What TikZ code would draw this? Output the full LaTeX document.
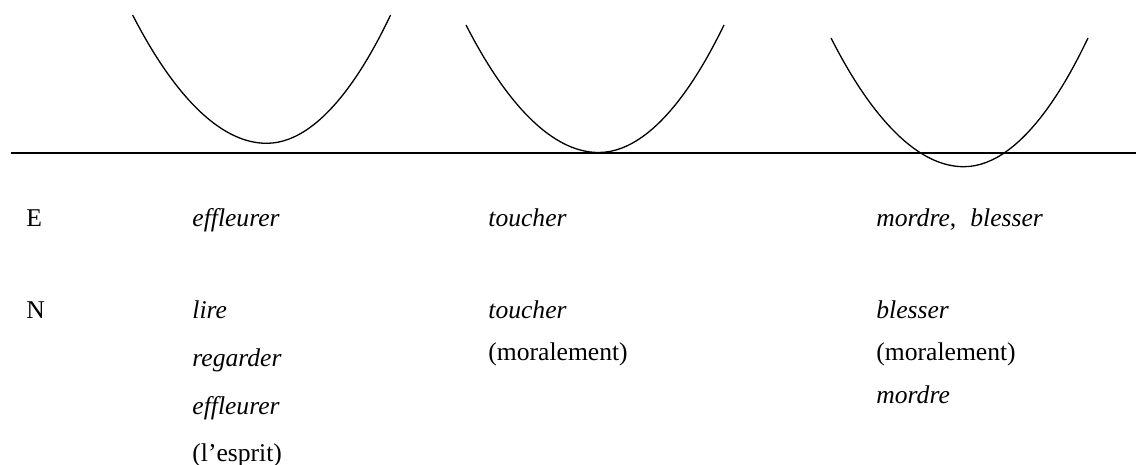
\documentclass[tikz,border=0pt]{standalone}
\usepackage{fontspec}
\setmainfont{Liberation Serif}
\begin{document}
\begin{tikzpicture}[x=0.5pt,y=-0.5pt,
  curve/.style={line width=0.65pt},
  axis/.style={line width=0.75pt},
  lbl/.style={anchor=base west,inner sep=0pt,font=\fontsize{12.8}{15}\selectfont},
  it/.style={lbl,font=\fontsize{12.8}{15}\selectfont\itshape}]
\useasboundingbox (0,0) rectangle (1136,465);
% baseline
\coordinate (L) at (11,153);
\coordinate (R) at (1136,153);
\draw[axis] (L) -- (R);
% curves
\draw[curve] (132.6,15) parabola bend (266.7,143.3) (390.6,15);
\draw[curve] (466,25) parabola bend (598.6,152.5) (724,25);
\draw[curve] (831,38) parabola bend (963.8,166.7) (1088,38);
% row E
\node[lbl] (E) at (26,227) {E};
\node[it] (e1) at (192,227) {effleurer};
\node[it] (e2) at (488,227) {toucher};
\node[lbl] (e3) at (876,227) {\textit{mordre},\hspace{0.55em}\textit{blesser}};
% row N
\node[lbl] (N) at (26,318) {N};
\node[it] (n1a) at (192,318) {lire};
\node[it] (n1b) at (192,366) {regarder};
\node[it] (n1c) at (192,414) {effleurer};
\node[lbl] (n1d) at (192,461) {(l’esprit)};
\node[it] (n2a) at (488,318) {toucher};
\node[lbl] (n2b) at (488,360) {(moralement)};
\node[it] (n3a) at (876,318) {blesser};
\node[lbl] (n3b) at (876,360) {(moralement)};
\node[it] (n3c) at (876,403) {mordre};
\end{tikzpicture}
\end{document}
